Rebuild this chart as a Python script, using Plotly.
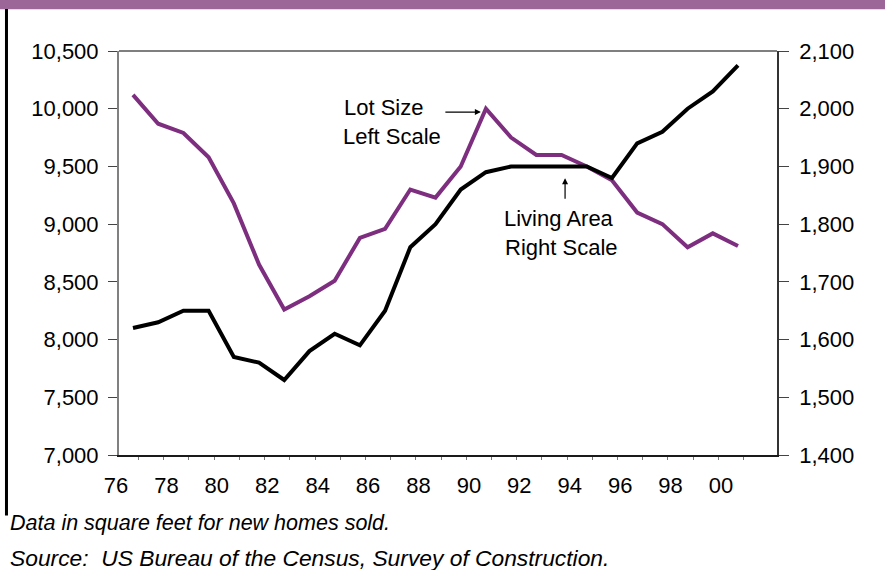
import plotly.graph_objects as go

# ---- data ----
years = list(range(1976, 2001))
lot_size = [10120, 9870, 9790, 9580, 9180, 8650, 8260, 8375, 8510, 8880,
            8960, 9300, 9230, 9500, 10000, 9750, 9600, 9600, 9500, 9380,
            9100, 9000, 8800, 8920, 8810]
living_area = [1620, 1630, 1650, 1650, 1570, 1560, 1530, 1580, 1610, 1590,
               1650, 1760, 1800, 1860, 1890, 1900, 1900, 1900, 1900, 1880,
               1940, 1960, 2000, 2030, 2075]
label_years = list(range(1976, 2001, 2))
x_labels = ["76", "78", "80", "82", "84", "86", "88", "90", "92", "94", "96", "98", "00"]
left_ticks = [7000, 7500, 8000, 8500, 9000, 9500, 10000, 10500]
right_ticks = [1400, 1500, 1600, 1700, 1800, 1900, 2000, 2100]

FONT = "Liberation Sans, Arial, sans-serif"
FS = 22
PURPLE = "#7D2E7F"

fig = go.Figure()
fig.add_trace(go.Scatter(x=years, y=lot_size, mode="lines", name="Lot Size",
                         line=dict(color=PURPLE, width=4), yaxis="y"))
fig.add_trace(go.Scatter(x=years, y=living_area, mode="lines", name="Living Area",
                         line=dict(color="#000000", width=4), yaxis="y2"))

XR = [1975.445, 2001.547]
YL = [7000, 10500]
YR = [1400, 2100]

fig.update_layout(
    width=885, height=570, autosize=False,
    margin=dict(l=119, r=108, t=51, b=115, pad=0),
    paper_bgcolor="white", plot_bgcolor="white",
    showlegend=False,
    font=dict(family=FONT, size=FS, color="black"),
    xaxis=dict(range=XR, tickmode="array", tickvals=label_years, ticktext=x_labels,
               ticks="", ticklabelshift=-17, ticklabelstandoff=10,
               showline=True, linecolor="#1a1a1a",
               linewidth=2, showgrid=False, zeroline=False,
               tickfont=dict(family=FONT, size=FS),
               minor=dict(ticks="outside", tickmode="array",
                          tickvals=[y + 0.22 for y in years],
                          ticklen=3, tickwidth=1, tickcolor="#777")),
    yaxis=dict(range=YL, tickmode="array", tickvals=left_ticks, tickformat=",",
               ticks="outside", ticklen=9, tickwidth=1, tickcolor="#444",
               ticklabelstandoff=5,
               showline=True, linecolor="#808080", linewidth=2,
               showgrid=False, zeroline=False, tickfont=dict(family=FONT, size=FS)),
    yaxis2=dict(range=YR, overlaying="y", side="right", tickmode="array",
                tickvals=right_ticks, tickformat=",", ticks="outside", ticklen=10,
                ticklabelstandoff=6,
                tickwidth=1, tickcolor="#444", showline=True, linecolor="#333",
                linewidth=1.5, showgrid=False, zeroline=False,
                tickfont=dict(family=FONT, size=FS)),
    yaxis3=dict(range=YL, overlaying="y", side="left", tickmode="array",
                tickvals=left_ticks, ticks="inside", ticklen=4, tickwidth=1,
                tickcolor="#444", showticklabels=False, showline=False,
                showgrid=False, zeroline=False),
    yaxis4=dict(range=YR, overlaying="y", side="right", tickmode="array",
                tickvals=right_ticks, ticks="inside", ticklen=4, tickwidth=1,
                tickcolor="#444", showticklabels=False, showline=False,
                showgrid=False, zeroline=False),
)

# frame line on top of plot area, purple band at top, black rule at left
fig.add_shape(type="line", xref="paper", yref="paper", x0=0, x1=1, y0=1, y1=1,
              line=dict(color="black", width=1.2))
fig.add_shape(type="rect", xref="paper", yref="paper", x0=-0.2, x1=1.2,
              y0=1.1033, y1=1.14, fillcolor="#9C6698", line=dict(width=0), layer="above")
fig.add_shape(type="line", xref="paper", yref="paper", x0=-0.1710, x1=-0.1710,
              y0=1.1041, y1=-0.1500, line=dict(color="black", width=3))

# labels and arrows
def txt(x, y, s):
    fig.add_annotation(x=x, y=y, xref="x", yref="y", text=s, showarrow=False,
                       xanchor="left", yanchor="middle",
                       font=dict(family=FONT, size=FS, color="black"))

txt(1984.30, 10014, "Lot Size")
txt(1984.26, 9763, "Left Scale")
txt(1990.62, 9051, "Living Area")
txt(1990.66, 8800, "Right Scale")

fig.add_annotation(x=1989.80, y=9971, xref="x", yref="y", text="", showarrow=True,
                   ax=-37, ay=0, arrowhead=2, arrowsize=1, arrowwidth=1.2,
                   arrowcolor="black", standoff=0)
fig.add_annotation(x=1993.14, y=9398, xref="x", yref="y", text="", showarrow=True,
                   ax=0, ay=22, arrowhead=2, arrowsize=1, arrowwidth=1.2,
                   arrowcolor="black", standoff=0)

# footnotes
fig.add_annotation(x=-0.1687, y=-0.1673, xref="paper", yref="paper",
                   text="<i>Data in square feet for new homes sold.</i>",
                   showarrow=False, xanchor="left", yanchor="middle",
                   font=dict(family=FONT, size=21.5, color="black"))
fig.add_annotation(x=-0.1687, y=-0.254, xref="paper", yref="paper",
                   text="<i>Source:\u00a0\u00a0US Bureau of the Census, Survey of Construction.</i>",
                   showarrow=False, xanchor="left", yanchor="middle",
                   font=dict(family=FONT, size=22.8, color="black"))

fig.write_html("out.html", config={"displayModeBar": False},
               post_script="document.body.style.margin='0';document.body.style.padding='0';")
